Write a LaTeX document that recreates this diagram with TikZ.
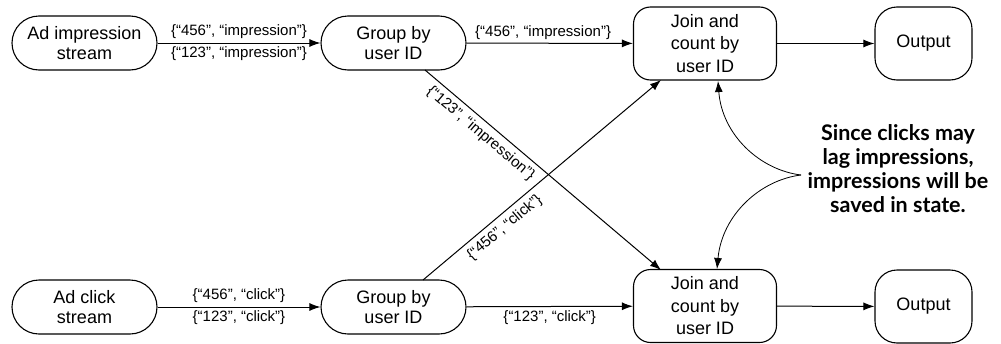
\documentclass[tikz,border=0pt]{standalone}
\usepackage{fontspec}
\setmainfont{Liberation Sans}
\newfontfamily\notefont{Lato}
\usetikzlibrary{arrows.meta}
\begin{document}
\begin{tikzpicture}[x=1pt,y=-1pt,
  box/.style={draw, line width=1.1pt, align=center, inner sep=0pt},
  pill/.style={box, rounded corners=27pt, minimum width=145pt, minimum height=54pt,
    font=\fontsize{18}{20}\selectfont},
  joinbox/.style={box, rounded corners=17pt, minimum width=143pt, minimum height=73pt,
    font=\fontsize{18}{22.5}\selectfont},
  outbox/.style={box, rounded corners=22pt, minimum width=97pt, minimum height=73pt,
    font=\fontsize{18}{22}\selectfont},
  flow/.style={draw, line width=1pt, -{Latex[length=11pt,width=8pt]}},
  lab/.style={font=\fontsize{15}{17}\selectfont, inner sep=3.5pt},
  slab/.style={lab, inner sep=5pt},
  note/.style={font=\notefont\bfseries\fontsize{21.5}{24}\selectfont, align=center, inner sep=0pt}
]
\useasboundingbox (0,0) rectangle (1001,343);

\node[pill] (ais) at (84.5,43) {Ad impression\\stream};
\node[pill] (g1) at (393.5,43) {Group by\\user ID};
\node[joinbox] (j1) at (705,43.5) {Join and\\count by\\user ID};
\node[outbox] (o1) at (923.5,43.5) {Output};

\node[pill] (acs) at (84.5,307) {Ad click\\stream};
\node[pill] (g2) at (393.5,307) {Group by\\user ID};
\node[joinbox] (j2) at (705,306) {Join and\\count by\\user ID};
\node[outbox] (o2) at (923.5,306.5) {Output};

\draw[flow] (ais) -- node[lab, above] {\{“456”, “impression”\}} node[lab, below] {\{“123”, “impression”\}} (g1);
\draw[flow] (g1) -- node[lab, above, pos=0.46] {\{“456”, “impression”\}} (j1);
\draw[flow] (j1) -- (o1);

\draw[flow] (acs) -- node[lab, above] {\{“456”, “click”\}} node[lab, below] {\{“123”, “click”\}} (g2);
\draw[flow] (g2) -- node[lab, below] {\{“123”, “click”\}} (j2);
\draw[flow] (j2) -- (o2);

\coordinate (g1b) at (425,70);
\coordinate (j2t) at (661,270);
\coordinate (g2t) at (423,280);
\coordinate (j1b) at (661,80);
\draw[flow] (g1b) -- node[slab, below, sloped, pos=0.27] {\{“123”, “impression”\}} (j2t);
\draw[flow] (g2t) -- node[slab, below, sloped, pos=0.31] {\{“456”, “click”\}} (j1b);

\node[note] (nt) at (898,169) {Since clicks may\\lag impressions,\\impressions will be\\saved in state.};
\coordinate (src) at (801,175);
\coordinate (j1c) at (718,81);
\coordinate (j2c) at (717,269);
\draw[flow, line width=0.8pt] (src) .. controls (760,170) and (722,135) .. (j1c);
\draw[flow, line width=0.8pt] (src) .. controls (760,180) and (722,215) .. (j2c);
\end{tikzpicture}
\end{document}
